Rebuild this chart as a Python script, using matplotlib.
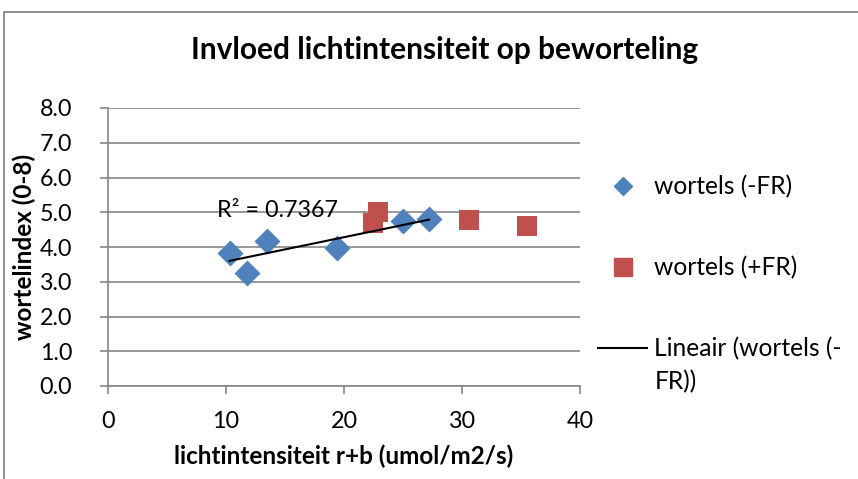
import numpy as np
import matplotlib.pyplot as plt
from matplotlib.patches import Rectangle
from matplotlib.lines import Line2D

plt.rcParams['font.family'] = ['Lato', 'DejaVu Sans']

# data
x_min_fr = [10.3, 11.8, 13.45, 19.4, 25.0, 27.2]
y_min_fr = [3.84, 3.25, 4.17, 3.98, 4.74, 4.81]
x_plus_fr = [22.45, 22.85, 30.6, 35.5]
y_plus_fr = [4.70, 5.01, 4.77, 4.60]

x_ticks = [0, 10, 20, 30, 40]
y_ticks = [0, 1, 2, 3, 4, 5, 6, 7, 8]

blue = '#4F81BD'
red = '#C0504D'
grey = '#868686'

fig = plt.figure(figsize=(8.58, 4.79), dpi=100)
ax = fig.add_axes([108 / 858, 1 - 386 / 479, 472 / 858, 278 / 479])

# chart border (cut off at right and bottom)
fig.patches.append(Rectangle((4 / 858, -0.1), 1.1, 1 - 12 / 479 + 0.1,
                             transform=fig.transFigure, fill=False,
                             edgecolor=grey, linewidth=1.3))

ax.scatter(x_min_fr, y_min_fr, marker='D', s=175, color=blue, zorder=3,
           linewidths=0)
ax.scatter(x_plus_fr, y_plus_fr, marker='s', s=195, color=red, zorder=3,
           linewidths=0)

# linear trendline through -FR
coef = np.polyfit(x_min_fr, y_min_fr, 1)
xt = np.array([min(x_min_fr), max(x_min_fr)])
ax.plot(xt, np.polyval(coef, xt), color='black', linewidth=1.5, zorder=4)
ax.text(9.2, 5.05, 'R² = 0.7367', fontsize=16.8, va='center', ha='left')

ax.set_xlim(0, 40)
ax.set_ylim(0, 8)
ax.set_xticks(x_ticks)
ax.set_yticks(y_ticks)
ax.set_yticklabels([f'{v:.1f}' for v in y_ticks])
ax.yaxis.grid(True, color=grey, linewidth=1.2)
ax.set_axisbelow(True)
for s in ['top', 'right']:
    ax.spines[s].set_visible(False)
for s in ['left', 'bottom']:
    ax.spines[s].set_color(grey)
    ax.spines[s].set_linewidth(1.2)
ax.tick_params(axis='both', colors=grey, length=5.8, width=1.2, labelsize=16.8,
               labelcolor='black', direction='out')
ax.tick_params(axis='x', pad=12)
ax.tick_params(axis='y', pad=20)

ax.set_xlabel('lichtintensiteit r+b (umol/m2/s)', fontsize=17.5,
              fontweight='bold', labelpad=9)
ax.set_ylabel('wortelindex (0-8)', fontsize=17.5, fontweight='bold')
ax.yaxis.set_label_coords(-72 / 472, 0.5)
fig.text(445 / 858, 1 - 50 / 479, 'Invloed lichtintensiteit op beworteling',
         fontsize=21.5, fontweight='bold', ha='center', va='center')

handles = [
    Line2D([], [], marker='D', linestyle='none', color=blue, markersize=9.5),
    Line2D([], [], marker='s', linestyle='none', color=red, markersize=13.5),
    Line2D([], [], color='black', linewidth=1.5),
]
labels = ['wortels (-FR)', 'wortels (+FR)', 'Lineair (wortels (-']
leg = fig.legend(handles, labels, loc='upper left',
                 bbox_to_anchor=(598 / 858, 1 - 175 / 479), frameon=False,
                 fontsize=17.7, labelspacing=2.35, handlelength=2.0,
                 handletextpad=0.28, borderpad=0, borderaxespad=0)
fig.text(655 / 858, 1 - 382 / 479, 'FR))', fontsize=17.7, va='center')

fig.savefig('out.png', dpi=100)
